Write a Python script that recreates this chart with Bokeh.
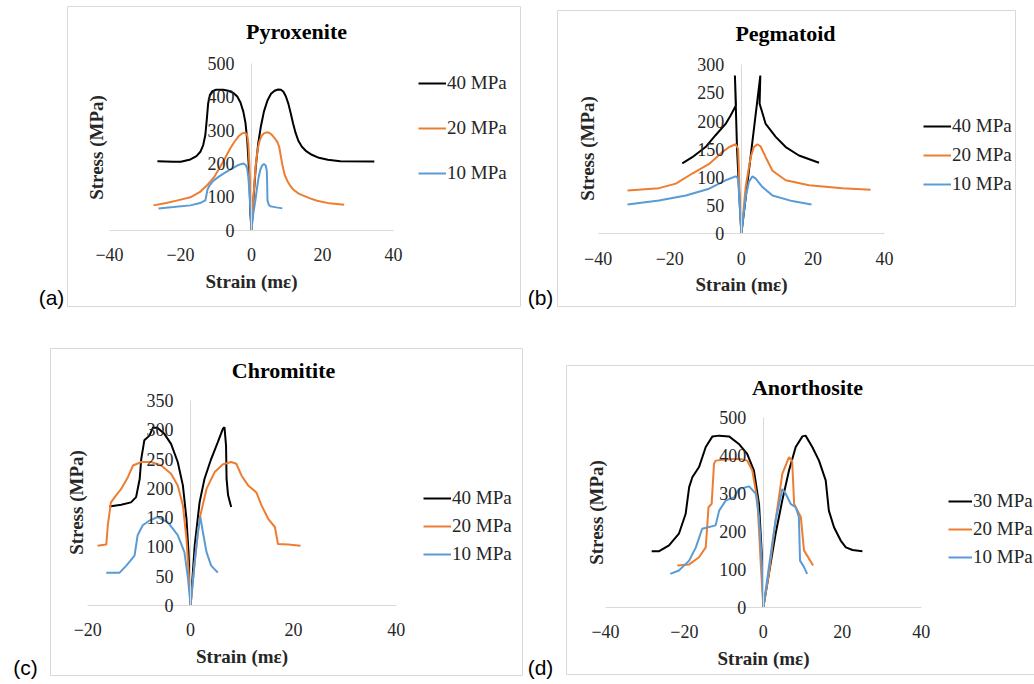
import math
from bokeh.plotting import figure
from bokeh.models import Label, Legend, LegendItem, FixedTicker, Range1d, BoxAnnotation
from bokeh.layouts import row, column
from bokeh.embed import file_html
from bokeh.resources import INLINE

SERIF = "Liberation Serif"
SANS = "Liberation Sans"
C_BLACK = "#000000"
C_ORANGE = "#ED7D31"
C_BLUE = "#5B9BD5"
GREY = "#d9d9d9"

# ---------------- (a) Pyroxenite ----------------
pyx_labels = ["40 MPa", "20 MPa", "10 MPa"]
pyx_40_x = [-26.5, -22.0, -19.9, -17.2, -15.5, -14.4, -13.6, -13.0, -12.6, -12.2, -11.7, -11.0, -10.0, -8.0,
            -6.5, -5.0, -4.0, -3.1, -2.3, -1.7, -1.2, -0.8, -0.5, -0.3, 0.0,
            0.6, 1.2, 1.9, 2.6, 3.5, 4.5, 5.5, 6.5, 7.5, 8.3, 9.0, 9.7, 10.4, 11.0, 11.7, 12.4, 13.2,
            14.2, 15.5, 17.0, 19.0, 21.5, 25.0, 34.6]
pyx_40_y = [207, 205, 205, 212, 222, 235, 255, 285, 330, 380, 405, 416, 420, 420,
            417, 410, 400, 382, 355, 322, 270, 200, 120, 50, 0,
            100, 190, 260, 308, 355, 388, 408, 417, 421, 420, 414, 400, 378, 352, 320, 292, 268,
            250, 236, 226, 217, 211, 207, 206]
pyx_20_x = [-27.6, -24.0, -20.8, -17.2, -14.5, -12.5, -10.5, -8.8, -7.5, -6.0, -4.8, -3.6, -2.6, -1.8,
            -1.2, -0.9, -0.6, -0.3, 0.0,
            0.3, 0.75, 1.2, 1.7, 2.2, 2.8, 3.5, 4.3, 5.0, 5.8, 6.5, 7.3, 7.8, 8.3, 8.8, 9.4, 10.1,
            11.0, 12.0, 13.3, 14.6, 16.5, 18.5, 22.0, 26.1]
pyx_20_y = [75, 82, 90, 99, 115, 135, 160, 190, 215, 245, 265, 282, 290, 292,
            285, 260, 200, 110, 0,
            60, 130, 195, 240, 265, 282, 290, 293, 292, 285, 276, 264, 250, 220, 190, 165, 148,
            132, 120, 110, 104, 96, 89, 81, 77]
pyx_10_x = [-26.2, -22.0, -17.2, -14.5, -13.0, -12.7, -12.4, -11.8, -10.7, -9.3, -7.9, -6.0, -4.0, -3.0,
            -2.2, -1.6, -1.2, -0.9, -0.6, -0.3, 0.0,
            0.5, 1.1, 1.6, 2.0, 2.5, 3.0, 3.5, 4.0, 4.3, 4.4, 4.5, 4.9, 5.4, 7.0, 8.7]
pyx_10_y = [66, 70, 75, 82, 90, 105, 122, 135, 149, 160, 170, 182, 194, 198,
            200, 195, 185, 160, 119, 60, 0,
            50, 90, 130, 158, 182, 194, 198, 194, 180, 150, 90, 76, 72, 69, 66]

# ---------------- (b) Pegmatoid ----------------
peg_labels = ["40 MPa", "20 MPa", "10 MPa"]
peg_40_x = [-16.5, -13.7, -10.0, -7.2, -4.4, -3.0, -2.0, -1.5, -1.8, -1.2, -0.5, 0.0,
            5.3, 5.1, 6.8, 9.6, 12.4, 16.1, 21.7]
peg_40_y = [125, 136, 154, 175, 195, 210, 222, 228, 281, 150, 60, 0,
            281, 231, 195, 172, 154, 139, 126]
peg_20_x = [-31.8, -23.0, -18.3, -13.7, -9.0, -5.3, -3.4, -1.6, -0.9, -0.65, -0.4, 0.0,
            1.2, 2.6, 3.5, 4.5, 5.4, 6.8, 8.7, 12.4, 18.9, 28.2, 36.1]
peg_20_y = [77, 81, 89, 107, 124, 145, 154, 159, 151, 107, 59, 0,
            83, 136, 154, 159, 155, 136, 112, 95, 86, 81, 78]
peg_10_x = [-31.8, -23.0, -15.5, -9.0, -4.4, -1.6, -0.9, -0.55, 0.0,
            1.2, 2.1, 3.1, 4.0, 5.9, 8.7, 14.2, 19.6]
peg_10_y = [52, 59, 68, 80, 95, 102, 98, 59, 0,
            65, 92, 102, 98, 83, 68, 58, 52]

# ---------------- (c) Chromitite ----------------
chr_labels = ["40 MPa", "20 MPa", "10 MPa"]
chr_40_x = [-15.8, -13.5, -11.6, -10.6, -9.9, -9.6, -9.0, -8.0, -7.3, -6.4, -5.1, -3.8, -2.5, -1.5, -0.8, -0.4, 0.0,
            0.8, 1.75, 2.7, 4.0, 5.3, 6.3, 6.6, 6.9, 7.0, 7.3, 7.9]
chr_40_y = [169, 172, 176, 185, 216, 250, 282, 290, 304, 303, 293, 276, 245, 205, 148, 91, 0,
            102, 176, 216, 250, 279, 302, 304, 273, 216, 188, 168]
chr_20_x = [-18.1, -16.4, -16.1, -15.5, -14.5, -13.5, -12.2, -11.2, -9.6, -7.7, -5.7, -3.8, -2.5, -1.5, -0.8, -0.3, 0.0,
            0.8, 1.75, 3.1, 4.7, 6.3, 7.9, 8.9, 9.9, 11.2, 12.8, 13.8, 15.1, 16.4, 17.0, 19.0, 21.4]
chr_20_y = [102, 104, 137, 176, 188, 199, 219, 239, 245, 245, 239, 225, 205, 171, 114, 46, 0,
            74, 148, 199, 228, 241, 245, 242, 222, 205, 193, 171, 148, 134, 105, 104, 102]
chr_10_x = [-16.4, -13.8, -12.5, -10.9, -10.3, -9.3, -8.0, -6.4, -4.4, -2.5, -1.2, -0.5, 0.0,
            0.8, 1.4, 1.9, 2.4, 3.1, 4.0, 5.3]
chr_10_y = [56, 56, 68, 85, 120, 137, 145, 151, 142, 120, 91, 46, 0,
            74, 125, 151, 125, 91, 68, 56]

# ---------------- (d) Anorthosite ----------------
ano_labels = ["30 MPa", "20 MPa", "10 MPa"]
ano_30_x = [-28.3, -26.4, -23.9, -21.4, -19.7, -18.8, -18.0, -16.3, -14.6, -12.9, -11.2, -8.7, -6.2, -4.1, -2.4, -1.1, -0.4, 0.0,
            1.4, 3.1, 4.8, 6.5, 8.2, 9.9, 10.7, 12.4, 14.1, 15.8, 16.6, 17.9, 19.6, 20.9, 22.6, 25.1]
ano_30_y = [148, 148, 163, 194, 246, 317, 343, 370, 423, 451, 453, 451, 431, 405, 361, 273, 141, 0,
            88, 194, 282, 361, 423, 451, 453, 423, 387, 335, 255, 211, 176, 158, 151, 148]
ano_20_x = [-21.8, -18.8, -16.3, -14.6, -13.9, -13.1, -12.5, -12.1, -9.5, -6.2, -4.1, -2.8, -1.5, -0.7, 0.0,
            1.4, 3.1, 4.8, 6.5, 7.3, 7.8, 8.2, 9.5, 10.3, 12.6]
ano_20_y = [110, 113, 132, 158, 264, 273, 379, 387, 390, 392, 387, 361, 282, 123, 0,
            88, 229, 352, 396, 387, 273, 264, 238, 150, 110]
ano_10_x = [-23.6, -21.4, -18.8, -17.1, -15.5, -12.1, -11.2, -9.5, -7.4, -6.2, -3.6, -1.9, -1.1, -0.4, 0.0,
            1.4, 3.1, 4.8, 5.7, 6.9, 8.2, 9.0, 9.3, 10.3, 11.1]
ano_10_y = [88, 97, 123, 158, 207, 216, 255, 282, 290, 312, 319, 299, 238, 123, 0,
            106, 229, 312, 299, 273, 264, 238, 123, 106, 88]

COLORS = [C_BLACK, C_ORANGE, C_BLUE]


def make_panel(name, tag, labels, xs, ys, width, height, xr, yr, xbounds, ybounds,
               xticks, yticks, box, title_pos, ylab_pos, tag_pos, legend_loc, legend_spacing,
               glyph_width=28):
    p = figure(width=width, height=height, x_range=Range1d(*xr), y_range=Range1d(*yr),
               toolbar_location=None, output_backend="svg",
               min_border_left=0, min_border_right=0, min_border_top=0, min_border_bottom=0,
               background_fill_color="white", border_fill_color="white")
    p.outline_line_color = None
    p.xgrid.visible = False
    p.ygrid.visible = False

    # panel border
    bl, br, bb, bt = box
    p.add_layout(BoxAnnotation(left=bl, right=br, bottom=bb, top=bt,
                               left_units="screen", right_units="screen",
                               bottom_units="screen", top_units="screen",
                               fill_color=None, fill_alpha=0, line_color=GREY, line_alpha=1.0,
                               line_width=1, level="underlay"))

    p.xaxis.fixed_location = 0
    p.yaxis.fixed_location = 0
    p.xaxis.bounds = xbounds
    p.yaxis.bounds = ybounds
    p.xaxis.ticker = FixedTicker(ticks=xticks)
    p.yaxis.ticker = FixedTicker(ticks=yticks)
    for ax in (p.xaxis, p.yaxis):
        ax.axis_line_color = GREY
        ax.axis_line_width = 1
        ax.major_tick_line_color = None
        ax.minor_tick_line_color = None
        ax.major_tick_out = 0
        ax.major_tick_in = 0
        ax.minor_tick_out = 0
        ax.minor_tick_in = 0
        ax.major_label_text_font = SERIF
        ax.major_label_text_font_size = "18px"
        ax.major_label_text_color = "#262626"
    p.xaxis.major_label_standoff = 18
    p.yaxis.major_label_standoff = 17
    p.xaxis.axis_label = "Strain (mε)"
    p.xaxis.axis_label_text_font = SERIF
    p.xaxis.axis_label_text_font_size = "19px"
    p.xaxis.axis_label_text_font_style = "bold"
    p.xaxis.axis_label_text_color = "#262626"
    p.xaxis.axis_label_standoff = 6

    items = []
    for lab, x, y, c in zip(labels, xs, ys, COLORS):
        r = p.line(x, y, line_color=c, line_width=2)
        items.append(LegendItem(label=lab, renderers=[r]))

    legend = Legend(items=items, location=legend_loc, spacing=legend_spacing,
                    padding=0, margin=0, border_line_color=None, background_fill_alpha=0,
                    glyph_width=glyph_width, glyph_height=20, label_height=20, label_standoff=1,
                    label_text_font=SERIF, label_text_font_size="19px",
                    label_text_color="#262626")
    p.add_layout(legend)

    p.add_layout(Label(x=title_pos[0], y=title_pos[1], x_units="screen", y_units="screen",
                       text=name, text_font=SERIF, text_font_size="22px", text_font_style="bold",
                       text_color="#000000", text_align="center", text_baseline="middle"))
    p.add_layout(Label(x=ylab_pos[0], y=ylab_pos[1], x_units="screen", y_units="screen",
                       text="Stress (MPa)", angle=math.pi / 2, text_font=SERIF, text_font_size="19px",
                       text_font_style="bold", text_color="#262626", text_align="center",
                       text_baseline="middle"))
    p.add_layout(Label(x=tag_pos[0], y=tag_pos[1], x_units="screen", y_units="screen",
                       text=tag, text_font=SANS, text_font_size="21px", text_color="#000000",
                       text_align="center", text_baseline="middle"))
    return p


pA = make_panel("Pyroxenite", "(a)", pyx_labels, [pyx_40_x, pyx_20_x, pyx_10_x], [pyx_40_y, pyx_20_y, pyx_10_y],
                521, 312, (-70.70, 76.06), (-244.8, 686.6), (-40, 40), (0, 500),
                [-40, -20, 0, 20, 40], [0, 100, 200, 300, 400, 500],
                (67, 520, 6, 306), (296, 281), (96, 165), (51, 15), (418, 128), 23)
pB = make_panel("Pegmatoid", "(b)", peg_labels, [peg_40_x, peg_20_x, peg_10_x], [peg_40_y, peg_20_y, peg_10_y],
                513, 312, (-61.42, 81.9), (-139.8, 414.2), (-40, 40), (0, 300),
                [-40, -20, 0, 20, 40], [0, 50, 100, 150, 200, 250, 300],
                (36, 494, 6, 302), (264, 279), (66, 164), (19, 15), (402, 117), 7)
pC = make_panel("Chromitite", "(c)", chr_labels, [chr_40_x, chr_20_x, chr_10_x], [chr_40_y, chr_20_y, chr_10_y],
                523, 372, (-36.98, 64.77), (-134.9, 500.2), (-20, 40), (0, 350),
                [-20, 0, 20, 40], [0, 50, 100, 150, 200, 250, 300, 350],
                (50, 522, 9, 336), (283, 314), (76, 182), (25, 17), (423, 119), 6)
pD = make_panel("Anorthosite", "(d)", ano_labels, [ano_30_x, ano_20_x, ano_10_x], [ano_30_y, ano_20_y, ano_10_y],
                511, 372, (-60.78, 68.71), (-204.1, 778.1), (-40, 40), (0, 500),
                [-40, -20, 0, 20, 40], [0, 100, 200, 300, 400, 500],
                (43, 530, 10, 319), (284, 297), (73, 172), (17, 17), (425, 116), 6, glyph_width=24)

layout = column(row(pA, pB, spacing=0), row(pC, pD, spacing=0), spacing=0)

open("out.html", "w").write(file_html(layout, INLINE, "Stress-strain curves"))
